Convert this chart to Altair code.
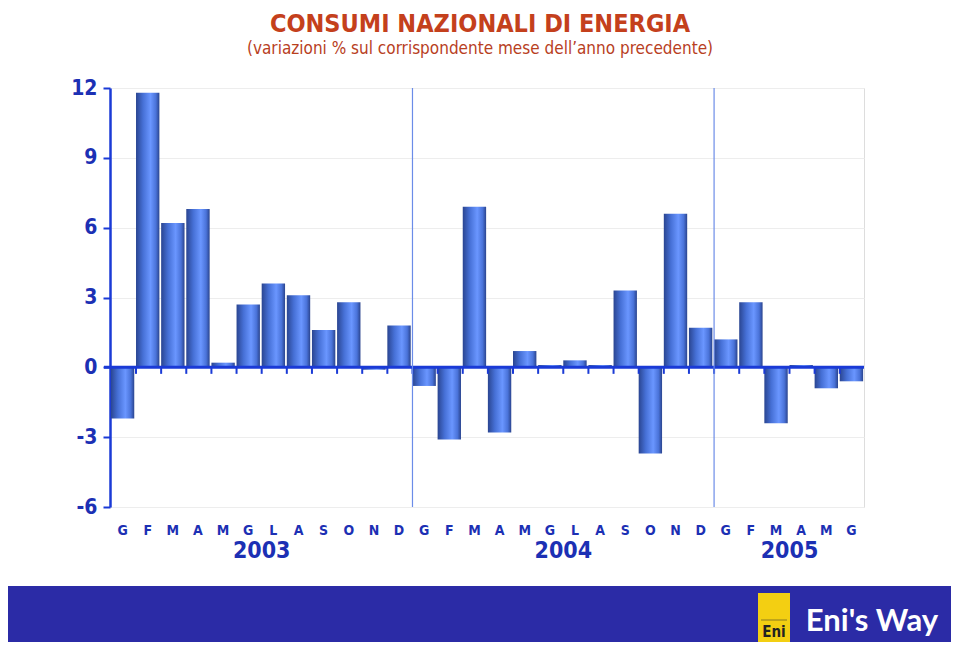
import altair as alt
import pandas as pd

# ---- data ----
months = ["G", "F", "M", "A", "M", "G", "L", "A", "S", "O", "N", "D",
          "G", "F", "M", "A", "M", "G", "L", "A", "S", "O", "N", "D",
          "G", "F", "M", "A", "M", "G"]
values = [-2.2, 11.8, 6.2, 6.8, 0.2, 2.7, 3.6, 3.1, 1.6, 2.8, -0.1, 1.8,
          -0.8, -3.1, 6.9, -2.8, 0.7, 0.1, 0.3, 0.1, 3.3, -3.7, 6.6, 1.7,
          1.2, 2.8, -2.4, 0.1, -0.9, -0.6]
year_labels = ["2003", "2004", "2005"]
year_anchor = [6, 18, 27]      # band whose left edge each year label sits on
separators = [12, 24]          # bands that start a new year
y_ticks = [-6, -3, 0, 3, 6, 9, 12]
title_text = "CONSUMI NAZIONALI DI ENERGIA"
subtitle_text = "(variazioni % sul corrispondente mese dell\u2019anno precedente)"

keys = [f"{i:02d}-{m}" for i, m in enumerate(months)]
df = pd.DataFrame({"key": keys, "value": values})
ticks_df = pd.DataFrame({"key": keys[1:]})
sep_df = pd.DataFrame({"key": [keys[i] for i in separators]})
year_df = pd.DataFrame({"key": [keys[i] for i in year_anchor], "year": year_labels})

W, H = 754, 419
BLUE = "#1c30b4"
AXBLUE = "#1a3ad6"
FONT = "DejaVu Sans Condensed"

xscale = alt.Scale(domain=keys, paddingInner=0.07, paddingOuter=0.035)
yscale = alt.Scale(domain=[-6, 12], nice=False, zero=False)

grad = alt.Gradient(
    gradient="linear",
    stops=[alt.GradientStop(offset=0, color="#2a4591"),
           alt.GradientStop(offset=0.3, color="#4670d6"),
           alt.GradientStop(offset=0.62, color="#6a96ff"),
           alt.GradientStop(offset=0.85, color="#4a73d9"),
           alt.GradientStop(offset=1, color="#2a448e")],
    x1=0, x2=1, y1=0, y2=0,
)

bars = alt.Chart(df).mark_bar(color=grad).encode(
    x=alt.X("key:N", scale=xscale, sort=keys,
            axis=alt.Axis(title=None, labelAngle=0, ticks=False, domain=False,
                          labelExpr="split(datum.label, '-')[1]",
                          labelFont=FONT, labelFontSize=14, labelFontWeight="bold",
                          labelColor=BLUE, labelPadding=16)),
    y=alt.Y("value:Q", scale=yscale,
            axis=alt.Axis(title=None, values=y_ticks, grid=True, gridColor="#ededed",
                          labelExpr="'' + datum.value",
                          domainColor=AXBLUE, domainWidth=2.5, tickColor=AXBLUE,
                          tickWidth=2, tickSize=7, labelFont=FONT, labelFontSize=21,
                          labelFontWeight="bold", labelColor=BLUE, labelPadding=6)),
)

zero_line = alt.Chart(pd.DataFrame({"v": [0]})).mark_rule(
    color=AXBLUE, strokeWidth=3).encode(
    y=alt.Y("v:Q", scale=yscale), x=alt.value(-6), x2=alt.value(W))

zero_ticks = alt.Chart(ticks_df).mark_rule(color=AXBLUE, strokeWidth=2).encode(
    x=alt.X("key:N", scale=xscale, sort=keys, bandPosition=0),
    y=alt.datum(0, scale=yscale), y2=alt.datum(-0.28))

seps = alt.Chart(sep_df).mark_rule(color="#6b8ce8", strokeWidth=1.2).encode(
    x=alt.X("key:N", scale=xscale, sort=keys, bandPosition=0),
    y=alt.value(0), y2=alt.value(H))

years = alt.Chart(year_df).mark_text(
    font=FONT, fontSize=23, fontWeight="bold", color=BLUE, baseline="middle").encode(
    x=alt.X("key:N", scale=xscale, sort=keys, bandPosition=0),
    y=alt.value(463), text="year:N")

one = pd.DataFrame({"a": [0]})
title = alt.Chart(one).mark_text(
    text=title_text, font=FONT, fontSize=25, fontWeight="bold", color="#c4401c",
    baseline="middle").encode(x=alt.value(370), y=alt.value(-64))
subtitle = alt.Chart(one).mark_text(
    text=subtitle_text, font=FONT, fontSize=17, color="#b8401e",
    baseline="middle").encode(x=alt.value(370), y=alt.value(-39))

banner = alt.Chart(one).mark_rect(color="#2b2ba6").encode(
    x=alt.value(-105), x2=alt.value(845), y=alt.value(498), y2=alt.value(560))
logo_box = alt.Chart(one).mark_rect(color="#f3cf12").encode(
    x=alt.value(648), x2=alt.value(680), y=alt.value(505), y2=alt.value(554))
logo_line = alt.Chart(one).mark_rule(color="#8a7a20", strokeWidth=1).encode(
    x=alt.value(651), x2=alt.value(677), y=alt.value(532))
logo_text = alt.Chart(one).mark_text(
    text="Eni", font=FONT, fontSize=15, fontWeight="bold", color="#222222",
    baseline="middle").encode(x=alt.value(664), y=alt.value(544))
brand = alt.Chart(one).mark_text(
    text="Eni's Way", font="Lato", fontSize=31, fontWeight="bold", color="white",
    baseline="middle").encode(x=alt.value(762), y=alt.value(534))

chart = alt.layer(
    bars, zero_line, zero_ticks, seps, years, title, subtitle,
    banner, logo_box, logo_line, logo_text, brand
).properties(
    width=W, height=H,
    autosize=alt.AutoSizeParams(type="none"),
    padding={"left": 102, "top": 80, "right": 87, "bottom": 135},
).configure_view(stroke="#3f5ec8", strokeWidth=1.5).configure(background="white")

chart.save("out.html", embed_options={"renderer": "svg", "actions": False})
